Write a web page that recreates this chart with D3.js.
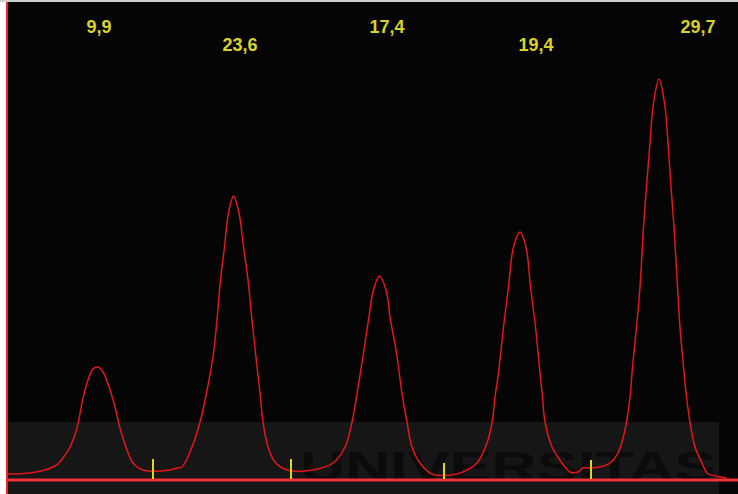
<!DOCTYPE html>
<html>
<head>
<meta charset="utf-8">
<script src="https://cdn.jsdelivr.net/npm/d3@7"></script>
<style>
  html, body { margin: 0; padding: 0; background: #ffffff; }
  svg { display: block; }
</style>
</head>
<body>
<svg id="chart" width="738" height="494"></svg>
<script>
// ---- Data (time in min, signal in arbitrary units) ----
const traceTime = [0, 0.44, 0.74, 0.9, 1.0, 1.1, 1.24, 1.38, 1.48, 1.58, 1.7, 1.8, 1.9, 2.04, 2.14, 2.24, 2.38, 2.5, 2.7, 3.24, 3.38, 3.48, 3.68, 3.84, 3.97, 4.11, 4.18, 4.25, 4.33, 4.41, 4.51, 4.62, 4.71, 4.8, 4.88, 4.95, 5.04, 5.1, 5.2, 5.34, 5.58, 6.1, 6.5, 6.74, 6.88, 6.97, 7.11, 7.21, 7.31, 7.43, 7.56, 7.65, 7.77, 7.89, 7.98, 8.08, 8.24, 8.48, 8.98, 9.18, 9.38, 9.58, 9.68, 9.74, 9.81, 9.91, 10.01, 10.11, 10.24, 10.36, 10.45, 10.55, 10.64, 10.69, 10.74, 10.88, 11.08, 11.24, 11.4, 11.5, 11.64, 11.84, 12.04, 12.2, 12.34, 12.44, 12.49, 12.57, 12.64, 12.71, 12.77, 12.84, 12.91, 13.02, 13.13, 13.2, 13.26, 13.32, 13.39, 13.44, 13.51, 13.57, 13.64, 13.74, 13.88, 13.98, 14.24, 14.38];
const traceSignal = [1.5, 1.75, 2.5, 3.25, 4, 5.5, 8.25, 13, 19.25, 24.25, 27.75, 28.25, 27, 22.5, 18.25, 13, 7.5, 4.25, 2.5, 2.5, 3, 3.25, 8.25, 14.5, 21.75, 31.75, 40, 50, 58.25, 66.75, 71, 66.75, 58.25, 50, 40, 31.75, 21.75, 14.5, 8.25, 4.5, 2.5, 2.5, 4.25, 8.25, 14.5, 20.75, 31.75, 40, 47.5, 51, 47.5, 40, 31.75, 20.75, 14.5, 8.25, 4.25, 1.5, 1.5, 2.5, 4.25, 9.25, 14.25, 20.75, 26.75, 38.25, 48.25, 58.25, 62, 58.25, 48.25, 38.25, 26.75, 20.75, 14.5, 8.25, 4.25, 2, 2, 3, 3, 3.25, 4.25, 6.75, 12.5, 20.75, 28.25, 38.25, 48.25, 63.25, 73.25, 84.25, 94.25, 100.25, 94.25, 84.25, 73.25, 63.25, 48.25, 38.25, 28.25, 20.75, 14.5, 8.25, 4.25, 1.75, 0.75, 0.5];

// Peak labels (areas) and where they are printed
const peakLabels = ["9,9", "23,6", "17,4", "19,4", "29,7"];
const labelTime = [1.82, 4.64, 7.58, 10.56, 13.8];
const labelRow = [0, 1, 0, 1, 0];

// Integration boundary markers
const markerTime = [2.9, 5.66, 8.72, 11.66];
const markerTop = [5.25, 5.25, 4.25, 5];

// ---- Drawing ----
const W = 738, H = 494;
const svg = d3.select("#chart");
const x = d3.scaleLinear().domain([0, 14.6]).range([8, 738]);
const y = d3.scaleLinear().domain([0, 100]).range([480, 80]);

svg.append("rect").attr("x", 0).attr("y", 0).attr("width", W).attr("height", H).attr("fill", "#ffffff");
svg.append("rect").attr("x", 0).attr("y", 0).attr("width", W).attr("height", 2).attr("fill", "#cfcfcf");
svg.append("rect").attr("x", 8).attr("y", 2).attr("width", W - 8).attr("height", H - 2).attr("fill", "#050505");

// faint watermark band
svg.append("rect").attr("x", 8).attr("y", 422).attr("width", 711).attr("height", H - 422).attr("fill", "#161616");
svg.append("text")
  .attr("x", 300).attr("y", 481)
  .attr("font-family", "Liberation Sans, Arial, sans-serif")
  .attr("font-weight", "bold")
  .attr("font-size", 42)
  .attr("textLength", 416)
  .attr("lengthAdjust", "spacingAndGlyphs")
  .attr("fill", "#0b0b0b")
  .text("UNIVERSITAS");

// left axis line
svg.append("line").attr("x1", 7).attr("x2", 7).attr("y1", 2).attr("y2", H)
  .attr("stroke", "#e8262a").attr("stroke-width", 2);

// baseline (x axis)
svg.append("line").attr("x1", x(0)).attr("x2", W).attr("y1", y(0)).attr("y2", y(0))
  .attr("stroke", "#f2333a").attr("stroke-width", 3);

// trace
const pts = traceTime.map((t, i) => [t, traceSignal[i]]);
const line = d3.line().x(d => x(d[0])).y(d => y(d[1])).curve(d3.curveCatmullRom.alpha(0.5));
svg.append("path").datum(pts)
  .attr("d", line)
  .attr("fill", "none")
  .attr("stroke", "#e3161c")
  .attr("stroke-width", 1.5)
  .attr("stroke-linejoin", "round");

// markers
svg.selectAll("line.marker").data(markerTime).enter().append("line")
  .attr("class", "marker")
  .attr("x1", d => x(d)).attr("x2", d => x(d))
  .attr("y1", (d, i) => y(markerTop[i])).attr("y2", y(0) - 1)
  .attr("stroke", "#dcd61e").attr("stroke-width", 2);

// labels
const rowY = [33, 51];
svg.selectAll("text.lbl").data(peakLabels).enter().append("text")
  .attr("class", "lbl")
  .attr("x", (d, i) => x(labelTime[i]))
  .attr("y", (d, i) => rowY[labelRow[i]])
  .attr("text-anchor", "middle")
  .attr("font-family", "Liberation Sans, Arial, sans-serif")
  .attr("font-weight", "bold")
  .attr("font-size", 18)
  .attr("fill", "#d8d22a")
  .text(d => d);
</script>
</body>
</html>
